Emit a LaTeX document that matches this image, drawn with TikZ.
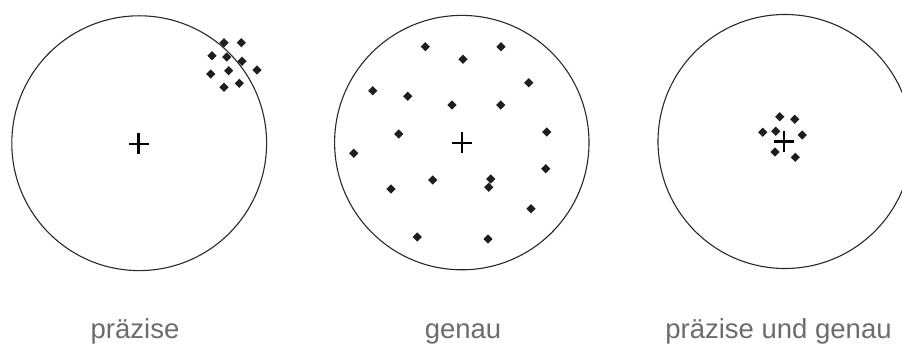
\documentclass[tikz,border=0pt]{standalone}
\usepackage{fontspec}
\setmainfont{Liberation Sans}
\definecolor{labelgray}{RGB}{108,108,108}
\definecolor{ringc}{RGB}{40,40,40}
\definecolor{dotc}{RGB}{30,30,30}
\begin{document}
\begin{tikzpicture}[x=1pt,y=-1pt,
  ring/.style={draw=ringc,line width=1.1pt},
  crossmark/.style={draw=black,line width=2.2pt},
  lbl/.style={anchor=base,text=labelgray,font=\fontsize{27.5}{33}\selectfont,inner sep=0pt},
  dotmark/.style={fill=dotc}]
\useasboundingbox (0,0) rectangle (902,347);
\clip (0,0) rectangle (902,347);
% circles
\draw[ring] (139.2,143.2) circle[radius=127.4];
\draw[ring] (461.8,142.6) circle[radius=127.2];
\draw[ring] (785,141.5) circle[radius=127];
% crosses
\foreach \cx/\cy in {138.5/144, 461.7/142.7, 784/141.5}{
  \draw[crossmark] (\cx-10,\cy) -- (\cx+10,\cy);
  \draw[crossmark] (\cx,\cy-10.5) -- (\cx,\cy+10.5);
}
% dots
\foreach \px/\py in {
  224/42.7, 241.3/42.7, 212/55.7, 226.7/57, 242/61.3, 210.7/74, 228.7/70.7, 257/70, 224/87.3, 239.3/83.3,
  425.3/46.7, 501/46.7, 463/59.3, 528.7/82.7, 372.7/90.7, 407.7/96.3, 452/105, 500.7/105, 398.7/134,
  546.7/132, 353.7/153.3, 545.7/168.7, 432.7/180, 490.7/179, 488.7/187.3, 391/189, 531/208.7, 417.3/237, 488/239,
  779.7/116.7, 794.7/119.3, 762.7/132.3, 775.7/131.3, 802.3/135, 775/152, 795.3/157.3}{
  \fill[dotmark] (\px-4.6,\py) -- (\px,\py-4.6) -- (\px+4.6,\py) -- (\px,\py+4.6) -- cycle;
}
% labels
\node[lbl] (l1) at (135,338.5) {präzise};
\node[lbl] (l2) at (463,338.5) {genau};
\node[lbl] (l3) at (778.5,338.5) {präzise und genau};
\end{tikzpicture}
\end{document}
